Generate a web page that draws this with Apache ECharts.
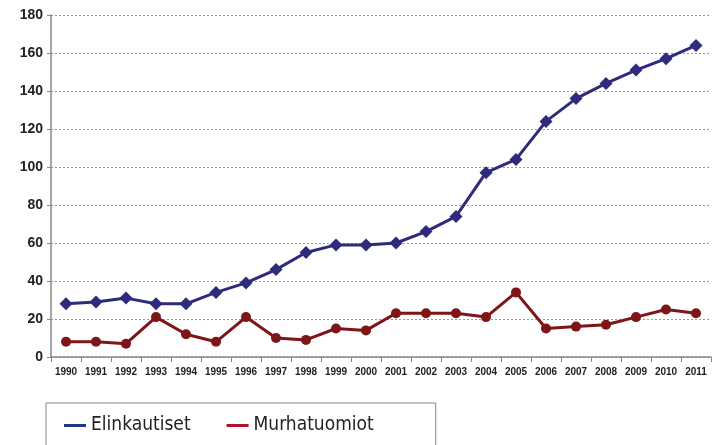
<!DOCTYPE html>
<html>
<head>
<meta charset="utf-8">
<script src="https://cdn.jsdelivr.net/npm/echarts@6/dist/echarts.min.js"></script>
<style>
  html, body { margin: 0; padding: 0; background: #fff; }
</style>
</head>
<body>
<!-- chart container -->
<div id="container" style="width: 719px; height: 445px"></div>
<script>
// years on the x axis
const years = ['1990', '1991', '1992', '1993', '1994', '1995', '1996', '1997', '1998', '1999', '2000',
  '2001', '2002', '2003', '2004', '2005', '2006', '2007', '2008', '2009', '2010', '2011']
// life sentences
const elinkautiset = [28, 29, 31, 28, 28, 34, 39, 46, 55, 59, 59, 60, 66, 74, 97, 104, 124, 136, 144, 151, 157, 164]
// murder convictions
const murhatuomiot = [8, 8, 7, 21, 12, 8, 21, 10, 9, 15, 14, 23, 23, 23, 21, 34, 15, 16, 17, 21, 25, 23]

var myChart = echarts.init(document.getElementById('container'))
const option = {
  animation: false,
  grid: { left: 51, right: 8, top: 15, bottom: 88 },
  legend: {
    left: 46,
    top: 403,
    icon: 'rect',
    itemWidth: 22,
    itemHeight: 3,
    itemGap: 36,
    padding: [13, 62, 30, 18],
    borderColor: '#888',
    borderWidth: 1,
    textStyle: { fontFamily: '"DejaVu Sans Condensed", "Liberation Sans", sans-serif', fontSize: 19, color: '#222' },
    data: [
      { name: 'Elinkautiset', itemStyle: { color: '#1f3a7a' } },
      { name: 'Murhatuomiot', itemStyle: { color: '#b3102f' } }
    ]
  },
  xAxis: {
    type: 'category',
    data: years,
    axisLine: { lineStyle: { color: '#888', width: 1.5 } },
    axisTick: { show: true, lineStyle: { color: '#888' } },
    axisLabel: { fontFamily: 'Arial', fontWeight: 'bold', fontSize: 10, color: '#222', margin: 10 }
  },
  yAxis: {
    type: 'value',
    min: 0,
    max: 180,
    interval: 20,
    axisLine: { show: true, lineStyle: { color: '#888', width: 1.5 } },
    axisTick: { show: true, length: 4, lineStyle: { color: '#888' } },
    axisLabel: { fontFamily: 'Arial', fontWeight: 'bold', fontSize: 14, color: '#222', margin: 8 },
    splitLine: { lineStyle: { color: '#999', type: [2, 2], width: 1 } }
  },
  series: [
    {
      name: 'Elinkautiset',
      type: 'line',
      data: elinkautiset,
      symbol: 'diamond',
      symbolSize: 13,
      color: '#2e2b7c',
      lineStyle: { width: 3 }
    },
    {
      name: 'Murhatuomiot',
      type: 'line',
      data: murhatuomiot,
      symbol: 'circle',
      symbolSize: 10,
      color: '#7e1518',
      lineStyle: { width: 3 }
    }
  ]
}
myChart.setOption(option)
</script>
</body>
</html>
